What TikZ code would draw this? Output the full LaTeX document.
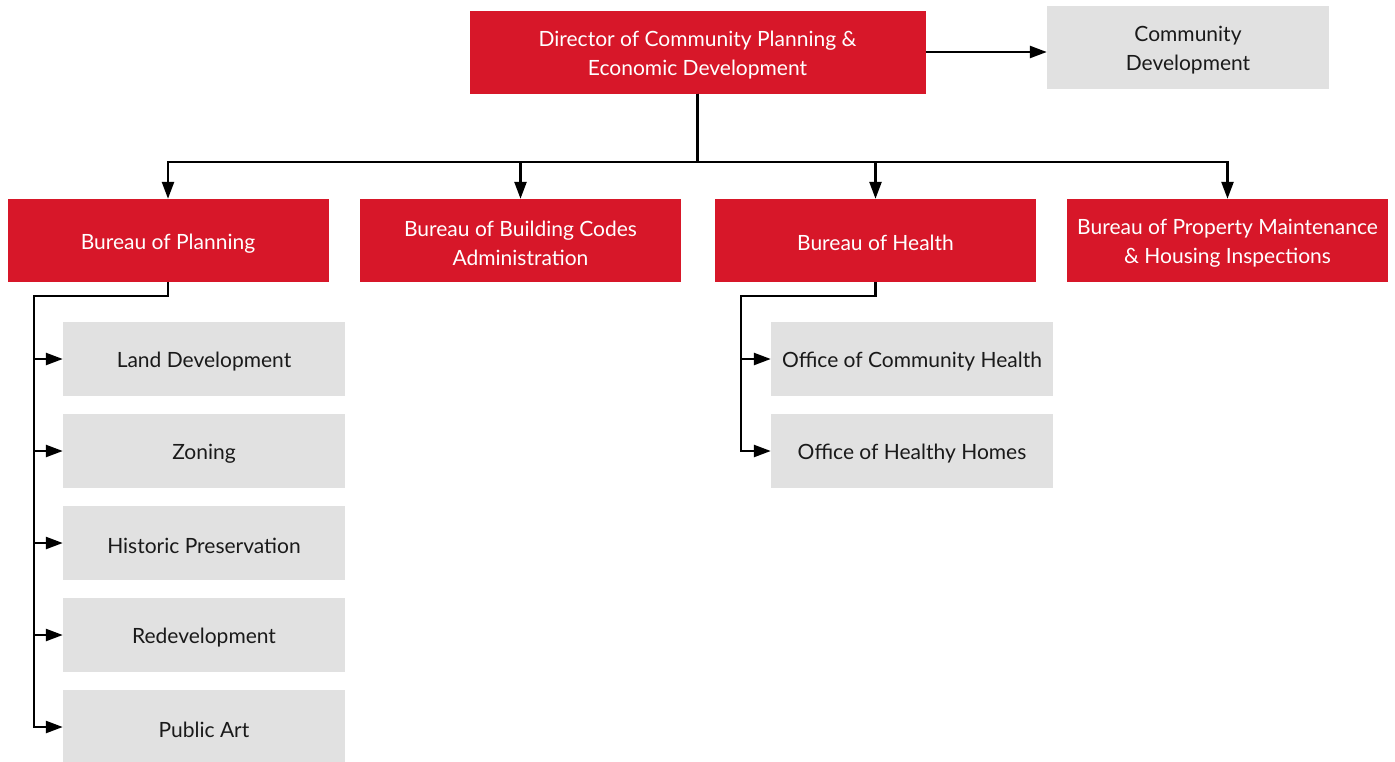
\documentclass[tikz,border=0pt]{standalone}
\usepackage{fontspec}
\setmainfont{Lato}
\usetikzlibrary{arrows.meta}
\definecolor{bred}{HTML}{D71729}
\definecolor{lgray}{HTML}{E1E1E1}
\definecolor{ink}{HTML}{1A1A1A}
\newcommand{\tstrut}{\rule{0pt}{21pt}}

\begin{document}
\begin{tikzpicture}[x=1pt, y=-1pt,
  every node/.style={font=\fontsize{21}{29}\selectfont, align=center, inner sep=0pt},
  redbox/.style={fill=bred, text=white, minimum width=321pt, minimum height=83pt},
  graybox/.style={fill=lgray, text=ink, minimum width=282pt, minimum height=74pt},
  link/.style={black, line width=2.5pt, -{Triangle[length=17pt, width=12pt]}}]
\useasboundingbox (0,0) rectangle (1395,761);

% top
\node[redbox, minimum width=456pt] (dir) at (697.5,52) {\tstrut Director of Community Planning \&\\Economic Development};
\node[graybox, minimum height=83pt] (cd) at (1188,47.5) {\tstrut Community\\Development};
\draw[link] (dir.east) -- (dir.east -| cd.west);

% bureaus
\node[redbox] (plan) at (168,240.5) {\tstrut Bureau of Planning};
\node[redbox] (codes) at (520.5,240.5) {\tstrut Bureau of Building Codes\\Administration};
\node[redbox] (health) at (875.5,240.5) {\tstrut Bureau of Health};
\node[redbox] (prop) at (1227.5,240.5) {\tstrut Bureau of Property Maintenance\\\& Housing Inspections};

\coordinate (bus) at (697.5,162);
\foreach \b in {plan, codes, health, prop}
 \draw[link] (dir.south) -- (bus) -| (\b.north);

% planning offices
\foreach \t [count=\i] in {Land Development, Zoning, Historic Preservation, Redevelopment, Public Art}
 \node[graybox] (p\i) at (204, 267+92*\i) {\tstrut\t};
\coordinate (pbus) at (34,296);
\foreach \i in {1,...,5}
 \draw[link] (plan.south) |- (pbus) |- (p\i.west);

% health offices
\foreach \t [count=\i] in {Office of Community Health, Office of Healthy Homes}
 \node[graybox] (h\i) at (912, 267+92*\i) {\tstrut\t};
\coordinate (hbus) at (741,296);
\foreach \i in {1,2}
 \draw[link] (health.south) |- (hbus) |- (h\i.west);

\end{tikzpicture}
\end{document}
